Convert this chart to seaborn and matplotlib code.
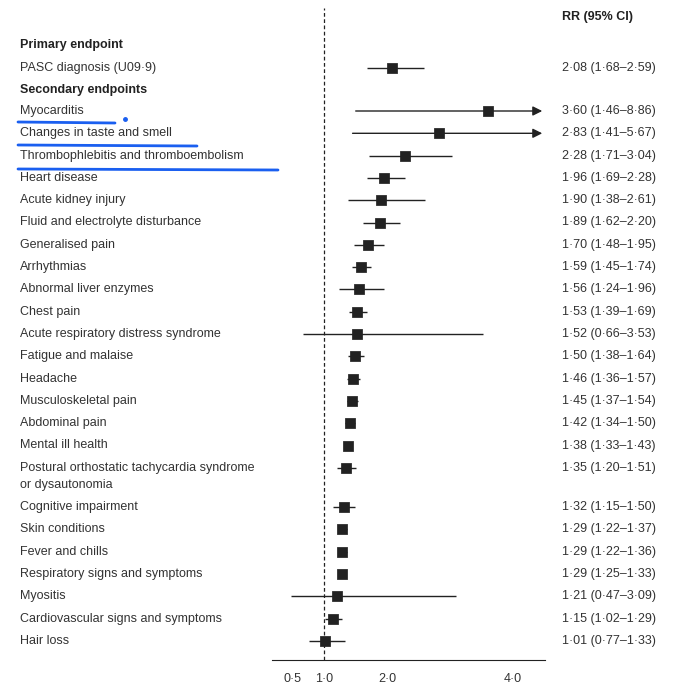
import matplotlib
matplotlib.use("Agg")
import matplotlib.pyplot as plt
import seaborn as sns
import pandas as pd
from matplotlib.lines import Line2D

labels = ["Myocarditis", "Changes in taste and smell", "Thrombophlebitis and thromboembolism",
          "Heart disease", "Acute kidney injury", "Fluid and electrolyte disturbance",
          "Generalised pain", "Arrhythmias", "Abnormal liver enzymes", "Chest pain",
          "Acute respiratory distress syndrome", "Fatigue and malaise", "Headache",
          "Musculoskeletal pain", "Abdominal pain", "Mental ill health",
          "Postural orthostatic tachycardia syndrome\nor dysautonomia", "Cognitive impairment",
          "Skin conditions", "Fever and chills", "Respiratory signs and symptoms", "Myositis",
          "Cardiovascular signs and symptoms", "Hair loss"]
rr = [3.60, 2.83, 2.28, 1.96, 1.90, 1.89, 1.70, 1.59, 1.56, 1.53, 1.52, 1.50, 1.46, 1.45,
      1.42, 1.38, 1.35, 1.32, 1.29, 1.29, 1.29, 1.21, 1.15, 1.01]
lo = [1.46, 1.41, 1.71, 1.69, 1.38, 1.62, 1.48, 1.45, 1.24, 1.39, 0.66, 1.38, 1.36, 1.37,
      1.34, 1.33, 1.20, 1.15, 1.22, 1.22, 1.25, 0.47, 1.02, 0.77]
hi = [8.86, 5.67, 3.04, 2.28, 2.61, 2.20, 1.95, 1.74, 1.96, 1.69, 3.53, 1.64, 1.57, 1.54,
      1.50, 1.43, 1.51, 1.50, 1.37, 1.36, 1.33, 3.09, 1.29, 1.33]
pasc = (2.08, 1.68, 2.59)
ticks = [0.5, 1.0, 2.0, 4.0]

W, H = 673, 695
sns.set_style("white")
plt.rcParams["font.family"] = ["Liberation Sans", "DejaVu Sans"]
fig = plt.figure(figsize=(W / 100, H / 100), dpi=100)
ax = fig.add_axes([272 / W, 1 - 660 / H, (545 - 272) / W, 660 / H])
xmin, xmax = 0.175, 4.51
ax.set_xlim(xmin, xmax)
ax.set_ylim(660, 0)

ys = [111 + 22.3 * i + (17 if i > 16 else 0) for i in range(len(labels))]
df = pd.DataFrame({"label": labels, "rr": rr, "lo": lo, "hi": hi, "y": ys})

def fmt(v):
    return f"{v:.2f}".replace(".", "·")

# CI lines
for _, r in df.iterrows():
    if r.hi > xmax:
        ax.annotate("", xy=(xmax, r.y), xytext=(r.lo, r.y),
                    arrowprops=dict(arrowstyle="-|>", color="#222", lw=1, mutation_scale=14),
                    annotation_clip=False)
    else:
        ax.hlines(r.y, r.lo, r.hi, color="#222", lw=1)
ax.hlines(68, pasc[1], pasc[2], color="#222", lw=1)
pts = pd.concat([df[["rr", "y"]], pd.DataFrame({"rr": [pasc[0]], "y": [68]})])
sns.scatterplot(data=pts, x="rr", y="y", marker="s", s=45, color="#222", edgecolor="#222",
                ax=ax, zorder=3, legend=False)

ax.axvline(1.0, ymin=0, ymax=1 - 8 / 660, color="#222", lw=0.9, ls=(0, (3, 2)))

for s in ["top", "right", "left"]:
    ax.spines[s].set_visible(False)
ax.spines["bottom"].set_color("#222")
ax.set_xticks(ticks)
ax.set_xticklabels([f"{t:.1f}".replace(".", "·") for t in ticks], fontsize=9, color="#333")
ax.tick_params(axis="x", length=4, color="#222", pad=5)
ax.set_yticks([])
ax.set_xlabel("")
ax.set_ylabel("")

tr = ax.get_yaxis_transform()
lx = (20 - 272) / (545 - 272)
rx = (562 - 272) / (545 - 272)
ax.text(rx, 17, "RR (95% CI)", transform=tr, fontsize=9, fontweight="bold", va="center", color="#222")
ax.text(lx, 45, "Primary endpoint", transform=tr, fontsize=9, fontweight="bold", va="center", color="#222")
ax.text(lx, 68, "PASC diagnosis (U09·9)", transform=tr, fontsize=9, va="center", color="#333")
ax.text(rx, 68, f"{fmt(pasc[0])} ({fmt(pasc[1])}–{fmt(pasc[2])})", transform=tr, fontsize=9,
        va="center", color="#333")
ax.text(lx, 90, "Secondary endpoints", transform=tr, fontsize=9, fontweight="bold", va="center", color="#222")
for _, r in df.iterrows():
    for k, line in enumerate(r.label.split("\n")):
        ax.text(lx, r.y + 17 * k, line, transform=tr, fontsize=9, va="center", color="#333")
    ax.text(rx, r.y, f"{fmt(r.rr)} ({fmt(r.lo)}–{fmt(r.hi)})", transform=tr, fontsize=9,
            va="center", color="#333")

# blue hand-drawn underlines
for x0, x1, y in [(18, 115, 122), (18, 197, 145), (18, 278, 169)]:
    fig.add_artist(Line2D([x0 / W, x1 / W], [1 - y / H, 1 - (y + 1) / H], color="#1a5ff0", lw=2))
fig.add_artist(Line2D([125 / W], [1 - 119 / H], marker="o", ms=2.5, color="#1a5ff0"))

fig.savefig("out.png", dpi=100, facecolor="white")
